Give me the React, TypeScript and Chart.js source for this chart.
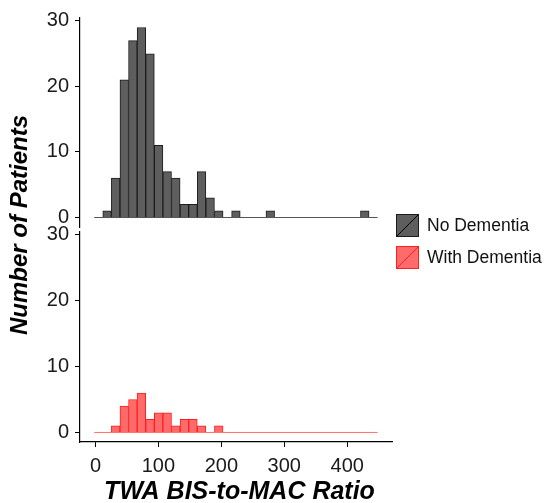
import React, { useEffect, useRef } from "react";
import { Chart, registerables } from "chart.js";
Chart.register(...registerables);

// ---- data ----
const BIN_START = -2.05; // left edge of first histogram bin
const BIN_WIDTH = 13.65;
const NO_DEMENTIA_COUNTS = [0, 1, 6, 21, 27, 29, 25, 11, 7, 6, 2, 2, 7, 3, 1, 0, 1, 0, 0, 0, 1, 0, 0, 0, 0, 0, 0, 0, 0, 0, 0, 1, 0];
const WITH_DEMENTIA_COUNTS = [0, 0, 1, 4, 5, 6, 2, 3, 3, 1, 2, 2, 1, 0, 1, 0, 0, 0, 0, 0, 0, 0, 0, 0, 0, 0, 0, 0, 0, 0, 0, 0, 0];
const SERIES_NAMES = ["No Dementia", "With Dementia"];
const X_TICKS = [0, 100, 200, 300, 400];
const Y_TICKS = [0, 10, 20, 30];
const X_RANGE = [-24.6, 471.2];
const Y_RANGE = [-1.45, 30.45];
const X_TITLE = "TWA BIS-to-MAC Ratio";
const Y_TITLE = "Number of Patients";

// ---- styles ----
const W = 544;
const H = 503;
const FONT = '"Liberation Sans", Arial, Helvetica, sans-serif';
const GREY_FILL = "#5e5e5e";
const GREY_BORDER = "#1c1c1c";
const GREY_BASE = "#555555";
const RED_FILL = "#ff6a6a";
const RED_BORDER = "#ff1f1f";
const RED_BASE = "#ff7070";

function binPoints(counts: number[]) {
  return counts.map((c, i) => ({ x: BIN_START + BIN_WIDTH * (i + 0.5), y: c }));
}
function baseline(counts: number[]) {
  return [
    { x: BIN_START, y: 0 },
    { x: BIN_START + BIN_WIDTH * counts.length, y: 0 },
  ];
}

const overlayPlugin = {
  id: "overlay",
  afterDraw(chart: any) {
    const ctx = chart.ctx;
    ctx.save();
    // y title
    ctx.fillStyle = "#000";
    ctx.font = `italic bold 24px ${FONT}`;
    ctx.textAlign = "center";
    ctx.textBaseline = "alphabetic";
    ctx.translate(26.5, 225);
    ctx.rotate(-Math.PI / 2);
    ctx.fillText(Y_TITLE, 0, 0);
    ctx.restore();

    ctx.save();
    ctx.fillStyle = "#000";
    ctx.font = `italic bold 25px ${FONT}`;
    ctx.textAlign = "center";
    ctx.textBaseline = "alphabetic";
    ctx.fillText(X_TITLE, 239.5, 499);
    ctx.restore();

    // legend
    const items = [
      { name: SERIES_NAMES[0], fill: GREY_FILL, line: "#000", border: GREY_BORDER, y: 214 },
      { name: SERIES_NAMES[1], fill: RED_FILL, line: RED_BORDER, border: RED_BORDER, y: 246 },
    ];
    ctx.save();
    for (const it of items) {
      const x = 396;
      const s = 23;
      ctx.fillStyle = it.fill;
      ctx.fillRect(x, it.y, s, s);
      ctx.strokeStyle = it.border;
      ctx.lineWidth = 1;
      ctx.strokeRect(x + 0.5, it.y + 0.5, s - 1, s - 1);
      ctx.beginPath();
      ctx.moveTo(x + 1, it.y + s - 1);
      ctx.lineTo(x + s - 1, it.y + 1);
      ctx.strokeStyle = it.line;
      ctx.stroke();
      ctx.fillStyle = "#111";
      ctx.font = `17.5px ${FONT}`;
      ctx.textAlign = "left";
      ctx.textBaseline = "middle";
      ctx.fillText(it.name, 427, it.y + s / 2 + 0.5);
    }
    ctx.restore();
  },
};

function makeConfig(
  counts: number[],
  fill: string,
  border: string,
  baseColor: string,
  showX: boolean,
  padTop: number,
  padBottom: number,
  plugins: any[]
): any {
  return {
    type: "bar",
    data: {
      datasets: [
        {
          type: "line",
          data: baseline(counts),
          borderColor: baseColor,
          borderWidth: 1,
          pointRadius: 0,
          order: 2,
        },
        {
          type: "bar",
          data: binPoints(counts),
          backgroundColor: fill,
          borderColor: border,
          borderWidth: 1,
          borderSkipped: "start",
          barPercentage: 1,
          categoryPercentage: 1,
          order: 1,
        },
      ],
    },
    options: {
      animation: false,
      responsive: false,
      events: [],
      layout: { padding: { left: 0, right: 152, top: padTop, bottom: padBottom } },
      plugins: { legend: { display: false }, tooltip: { enabled: false } },
      scales: {
        x: {
          type: "linear",
          min: X_RANGE[0],
          max: X_RANGE[1],
          offset: false,
          display: showX,
          afterBuildTicks: (s: any) => {
            s.ticks = X_TICKS.map((v) => ({ value: v }));
          },
          afterFit: (s: any) => {
            if (showX) s.height = 61;
          },
          grid: { display: true, offset: false, drawOnChartArea: false, drawTicks: true, tickLength: 5, color: "#000", lineWidth: 1 },
          border: { display: true, color: "#000", width: 1.2 },
          ticks: { color: "#1a1a1a", padding: 7, font: { family: FONT, size: 20 }, maxRotation: 0 },
        },
        y: {
          type: "linear",
          min: Y_RANGE[0],
          max: Y_RANGE[1],
          afterBuildTicks: (s: any) => {
            s.ticks = Y_TICKS.map((v) => ({ value: v }));
          },
          afterFit: (s: any) => {
            s.width = 80;
          },
          grid: { display: true, drawOnChartArea: false, drawTicks: true, tickLength: 5, color: "#000", lineWidth: 1 },
          border: { display: true, color: "#000", width: 1.2 },
          ticks: { color: "#1a1a1a", padding: 6, font: { family: FONT, size: 20 } },
        },
      },
    },
    plugins,
  };
}

export default function App() {
  const topRef = useRef<HTMLCanvasElement>(null);
  const botRef = useRef<HTMLCanvasElement>(null);
  useEffect(() => {
    const top = new Chart(
      topRef.current as HTMLCanvasElement,
      makeConfig(NO_DEMENTIA_COUNTS, GREY_FILL, GREY_BORDER, GREY_BASE, false, 18, H - 227, [])
    );
    const bot = new Chart(
      botRef.current as HTMLCanvasElement,
      makeConfig(WITH_DEMENTIA_COUNTS, RED_FILL, RED_BORDER, RED_BASE, true, 232, 0, [overlayPlugin])
    );
    return () => {
      top.destroy();
      bot.destroy();
    };
  }, []);
  const cs: React.CSSProperties = { position: "absolute", left: 0, top: 0, width: W, height: H };
  return (
    <div style={{ position: "fixed", left: 0, top: 0, width: W, height: H, background: "#fff" }}>
      <canvas ref={topRef} width={W} height={H} style={cs} />
      <canvas ref={botRef} width={W} height={H} style={cs} />
    </div>
  );
}
